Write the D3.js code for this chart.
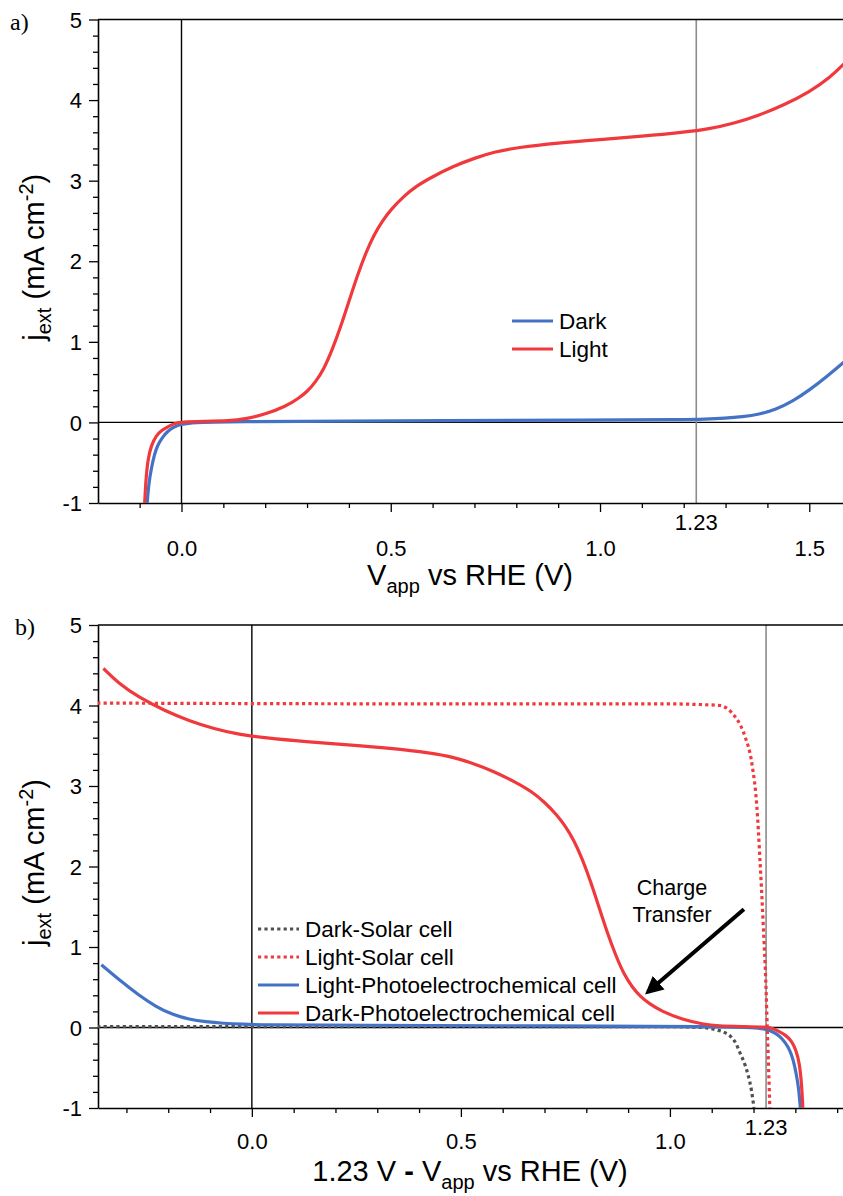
<!DOCTYPE html>
<html>
<head>
<meta charset="utf-8">
<script src="https://cdn.jsdelivr.net/npm/d3@7"></script>
<style>
  html, body { margin: 0; padding: 0; background: #fff; }
  svg { display: block; }
  text { font-family: "Liberation Sans", Arial, sans-serif; fill: #000; }
</style>
</head>
<body>
<svg id="chart" width="843" height="1196"></svg>
<script>
// ---------------- DATA ----------------
// Panel a: j_ext (mA cm^-2) vs V_app vs RHE (V)
const lightV = [-0.088,-0.085,-0.08,-0.072,-0.06,-0.048,-0.03,-0.015,0,0.05,0.116,0.15,0.2,0.25,0.28,0.3,0.32,0.34,0.36,0.38,0.4,0.42,0.44,0.46,0.48,0.5,0.53,0.56,0.6,0.65,0.7,0.75,0.8,0.9,1.0,1.1,1.2,1.26,1.32,1.38,1.44,1.5,1.55,1.585];
const lightJ = [-1,-0.7,-0.45,-0.28,-0.16,-0.1,-0.045,-0.01,0.005,0.012,0.02,0.04,0.1,0.2,0.3,0.38,0.5,0.66,0.9,1.18,1.5,1.82,2.1,2.33,2.5,2.64,2.8,2.93,3.05,3.18,3.28,3.36,3.41,3.47,3.51,3.55,3.6,3.64,3.71,3.81,3.94,4.1,4.28,4.46];
const darkV  = [-0.082,-0.078,-0.072,-0.065,-0.057,-0.045,-0.033,-0.02,0,0.03,0.1,0.5,1.0,1.2,1.25,1.3,1.34,1.38,1.42,1.46,1.5,1.54,1.59];
const darkJ  = [-1,-0.75,-0.57,-0.4,-0.28,-0.18,-0.11,-0.06,-0.02,0,0.01,0.02,0.028,0.034,0.04,0.052,0.07,0.1,0.16,0.26,0.4,0.56,0.78];

// Panel b: x = 1.23 V - V_app (V)
const solarLightX = [-0.37,0.5,1.0,1.08,1.12,1.14,1.156,1.17,1.18,1.196,1.208,1.215,1.223,1.23,1.233,1.236,1.239];
const solarLightJ = [4.03,4.02,4.02,4.01,4.0,3.95,3.86,3.74,3.61,3.28,2.74,2.12,1.3,0.47,-0.03,-0.5,-1];
const solarDarkX  = [-0.37,1.0,1.08,1.11,1.13,1.145,1.158,1.168,1.18,1.188,1.195,1.201];
const solarDarkJ  = [0.01,0.01,0.0,-0.03,-0.06,-0.11,-0.2,-0.32,-0.47,-0.61,-0.78,-1];

const E0 = 1.23;
const yTicks = [-1, 0, 1, 2, 3, 4, 5];
const xTicks = [0.0, 0.5, 1.0, 1.5];
const xTickLabels = ["0.0", "0.5", "1.0", "1.5"];
const bXTicks = [0.0, 0.5, 1.0];
const bXTickLabels = ["0.0", "0.5", "1.0"];
const legendA = ["Dark", "Light"];
const legendB = ["Dark-Solar cell", "Light-Solar cell", "Light-Photoelectrochemical cell", "Dark-Photoelectrochemical cell"];
const annotationLines = ["Charge", "Transfer"];

// ---------------- STYLE ----------------
const RED = "#F0393C", BLUE = "#4472C4", GRAY = "#505050";
const svg = d3.select("#chart");

function buildPanel(cfg) {
  const x = d3.scaleLinear().domain(cfg.xDomain).range([cfg.left, cfg.right]);
  const y = d3.scaleLinear().domain([-1, 5]).range([cfg.bottom, cfg.top]);
  const g = svg.append("g");
  const clipId = "clip" + cfg.id;
  svg.append("clipPath").attr("id", clipId).append("rect")
    .attr("x", cfg.left).attr("y", cfg.top)
    .attr("width", cfg.right - cfg.left).attr("height", cfg.bottom - cfg.top + 2);

  // reference lines
  g.append("line").attr("x1", x(0)).attr("x2", x(0)).attr("y1", cfg.top).attr("y2", cfg.bottom)
    .attr("stroke", "#000").attr("stroke-width", 1.4);
  g.append("line").attr("x1", cfg.left).attr("x2", cfg.right).attr("y1", y(0)).attr("y2", y(0))
    .attr("stroke", "#000").attr("stroke-width", 1.4);
  g.append("line").attr("x1", x(E0)).attr("x2", x(E0)).attr("y1", cfg.top).attr("y2", cfg.bottom)
    .attr("stroke", "#8c8c8c").attr("stroke-width", 1.6);

  // top border
  g.append("line").attr("x1", cfg.left).attr("x2", cfg.right).attr("y1", y(5)).attr("y2", y(5))
    .attr("stroke", "#000").attr("stroke-width", 1.6);

  // y axis
  const yMinor = d3.range(-1, 5.001, 0.2).filter(v => Math.abs(v - Math.round(v)) > 1e-6);
  g.append("g").attr("transform", `translate(${cfg.left},0)`)
    .call(d3.axisLeft(y).tickValues(yMinor).tickSize(5).tickFormat(""))
    .call(s => s.select(".domain").remove())
    .call(s => s.selectAll("line").attr("stroke-width", 1.3));
  const ya = g.append("g").attr("transform", `translate(${cfg.left},0)`)
    .call(d3.axisLeft(y).tickValues(yTicks).tickSize(9).tickSizeOuter(0).tickPadding(7)
      .tickFormat(d => (d < 0 ? "-" : "") + Math.abs(d)));
  ya.select(".domain").attr("stroke-width", 1.6);
  ya.selectAll("line").attr("stroke-width", 1.3);
  ya.selectAll("text").attr("font-size", 22).attr("font-family", "Liberation Sans, Arial").attr("dy", "0.35em");

  // x axis
  const xMinor = d3.range(-0.3, cfg.xDomain[1], 0.1).map(v => Math.round(v * 10) / 10)
    .filter(v => v >= cfg.xDomain[0] && Math.abs(v * 2 - Math.round(v * 2)) > 1e-6);
  g.append("g").attr("transform", `translate(0,${cfg.bottom})`)
    .call(d3.axisBottom(x).tickValues(xMinor).tickSize(5).tickFormat(""))
    .call(s => s.select(".domain").remove())
    .call(s => s.selectAll("line").attr("stroke-width", 1.3));
  const xa = g.append("g").attr("transform", `translate(0,${cfg.bottom})`)
    .call(d3.axisBottom(x).tickValues(cfg.xTicks).tickSize(9).tickSizeOuter(0).tickPadding(cfg.xPad)
      .tickFormat((d, i) => cfg.xLabels[i]));
  xa.select(".domain").attr("stroke-width", 1.6);
  xa.selectAll("line").attr("stroke-width", 1.3);
  xa.selectAll("text").attr("font-size", 22).attr("font-family", "Liberation Sans, Arial");
  // 1.23 label (no tick)
  g.append("text").attr("x", x(E0)).attr("y", cfg.bottom + 27).attr("text-anchor", "middle")
    .attr("font-size", 22).text("1.23");

  // y title
  const yt = g.append("text")
    .attr("transform", `translate(${cfg.left - 54},${(cfg.top + cfg.bottom) / 2 - 4}) rotate(-90)`)
    .attr("text-anchor", "middle").attr("font-size", 29);
  yt.append("tspan").text("j");
  yt.append("tspan").attr("font-size", 20).attr("dy", 7).text("ext");
  yt.append("tspan").attr("dy", -7).text(" (mA cm");
  yt.append("tspan").attr("font-size", 20).attr("dy", -11).text("-2");
  yt.append("tspan").attr("dy", 11).text(")");

  // panel tag
  svg.append("text").attr("x", cfg.tagX).attr("y", cfg.top + 10)
    .style("font-family", "'Liberation Serif', 'Times New Roman', serif")
    .attr("font-size", 24).text(cfg.tag);

  return { x, y, g, clipId };
}

function drawLine(p, xs, ys, color, dashed, smooth) {
  const pts = xs.map((v, i) => [v, ys[i]]).sort((a, b) => a[0] - b[0]);
  const line = d3.line().x(d => p.x(d[0])).y(d => p.y(d[1]))
    .curve(smooth ? d3.curveBasis : d3.curveMonotoneX);
  p.g.append("path").datum(pts).attr("d", line)
    .attr("clip-path", `url(#${p.clipId})`)
    .attr("fill", "none").attr("stroke", color).attr("stroke-width", 3.2)
    .attr("stroke-dasharray", dashed ? "3.2,3.2" : null)
    .attr("stroke-linejoin", "round");
}

// ---------------- PANEL A ----------------
const pa = buildPanel({ id: "a", left: 98, right: 843, top: 19.5, bottom: 503, xPad: 28,
  xDomain: [-0.1995, 1.5806], xTicks: xTicks, xLabels: xTickLabels, tag: "a)", tagX: 10 });
drawLine(pa, darkV, darkJ, BLUE, false, true);
drawLine(pa, lightV, lightJ, RED, false, true);

pa.g.append("text").attr("x", 470).attr("y", 585).attr("text-anchor", "middle").attr("font-size", 29)
  .call(t => {
    t.append("tspan").text("V");
    t.append("tspan").attr("font-size", 20).attr("dy", 8).text("app");
    t.append("tspan").attr("dy", -8).text(" vs RHE (V)");
  });

const legA = pa.g.append("g");
[BLUE, RED].forEach((c, i) => {
  const yy = 321 + i * 28;
  legA.append("line").attr("x1", 512).attr("x2", 553).attr("y1", yy).attr("y2", yy)
    .attr("stroke", c).attr("stroke-width", 3.2);
  legA.append("text").attr("x", 559).attr("y", yy).attr("dy", "0.35em").attr("font-size", 22.5).text(legendA[i]);
});

// ---------------- PANEL B ----------------
const pb = buildPanel({ id: "b", left: 98, right: 843, top: 625, bottom: 1108, xPad: 16,
  xDomain: [-0.368, 1.414], xTicks: bXTicks, xLabels: bXTickLabels, tag: "b)", tagX: 15 });

drawLine(pb, solarDarkX, solarDarkJ, GRAY, true, false);
drawLine(pb, solarLightX, solarLightJ, RED, true, false);
drawLine(pb, darkV.map(v => E0 - v), darkJ, BLUE, false, true);
drawLine(pb, lightV.map(v => E0 - v), lightJ, RED, false, true);

pb.g.append("text").attr("x", 470).attr("y", 1181).attr("text-anchor", "middle").attr("font-size", 29)
  .call(t => {
    t.append("tspan").text("1.23 V ");
    t.append("tspan").attr("font-weight", "bold").text("-");
    t.append("tspan").text(" V");
    t.append("tspan").attr("font-size", 20).attr("dy", 8).text("app");
    t.append("tspan").attr("dy", -8).text(" vs RHE (V)");
  });

const legB = pb.g.append("g");
const legBStyle = [[GRAY, true], [RED, true], [BLUE, false], [RED, false]];
legBStyle.forEach(([c, dashed], i) => {
  const yy = 929 + i * 28;
  legB.append("line").attr("x1", 258).attr("x2", 299).attr("y1", yy).attr("y2", yy)
    .attr("stroke", c).attr("stroke-width", 3.2).attr("stroke-dasharray", dashed ? "3.2,3.2" : null);
  legB.append("text").attr("x", 305).attr("y", yy).attr("dy", "0.35em").attr("font-size", 22.5).text(legendB[i]);
});

// annotation
const arrowFrom = [1.177, 1.47], arrowTo = [0.947, 0.44];
svg.append("defs").append("marker").attr("id", "ah").attr("viewBox", "0 0 10 10")
  .attr("refX", 8).attr("refY", 5).attr("markerWidth", 4.5).attr("markerHeight", 4.5)
  .attr("markerUnits", "strokeWidth").attr("orient", "auto")
  .append("path").attr("d", "M0,0 L10,5 L0,10 z").attr("fill", "#000");
pb.g.append("line").attr("x1", pb.x(arrowFrom[0])).attr("y1", pb.y(arrowFrom[1]))
  .attr("x2", pb.x(arrowTo[0])).attr("y2", pb.y(arrowTo[1]))
  .attr("stroke", "#000").attr("stroke-width", 4).attr("marker-end", "url(#ah)");
annotationLines.forEach((s, i) => {
  pb.g.append("text").attr("x", pb.x(1.005)).attr("y", pb.y(1.74 - i * 0.34)).attr("dy", "0.35em")
    .attr("text-anchor", "middle").attr("font-size", 21.5).text(s);
});
</script>
</body>
</html>
